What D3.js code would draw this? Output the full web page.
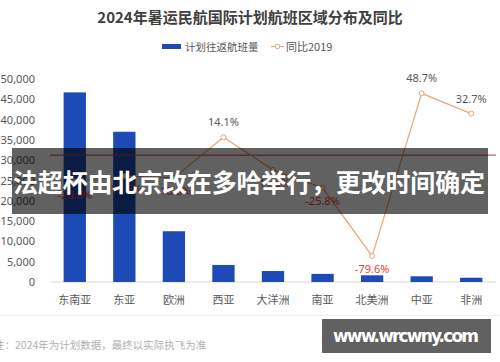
<!DOCTYPE html>
<html lang="zh">

<head>
    <meta charset="UTF-8">
    <title>2024年暑运民航国际计划航班区域分布及同比</title>
    <script src="https://d3js.org/d3.v7.min.js"></script>
    <style>
        body { margin: 0; background: #fff; }
        svg { display: block; font-family: "Noto Sans CJK SC", "Noto Sans", sans-serif; }
    </style>
</head>

<body>
    <svg id="chart" width="500" height="362"></svg>
    <script>
        // Chart data
        const regions = ["东南亚", "东亚", "欧洲", "西亚", "大洋洲", "南亚", "北美洲", "中亚", "非洲"];
        const flights = [46700, 37000, 12500, 4200, 2700, 2000, 1650, 1400, 1050];
        const vs2019 = [-20.8, -16.5, -18.0, 14.1, -11.6, -25.8, -79.6, 48.7, 32.7];
        const yTicks = [0, 5000, 10000, 15000, 20000, 25000, 30000, 35000, 40000, 45000, 50000];

        const svg = d3.select("#chart");

        const x = d3.scaleBand()
            .domain(regions)
            .range([50, 496])
            .paddingInner(0.55)
            .paddingOuter(0.275);

        const y = d3.scaleLinear().domain([0, 50000]).range([282, 79]);
        const yPct = d3.scaleLinear().domain([-100, 60]).range([282, 79]);

        // Title
        svg.append("text")
            .attr("x", 250).attr("y", 23)
            .attr("text-anchor", "middle")
            .attr("font-size", 15).attr("font-weight", "bold")
            .attr("fill", "#404040")
            .text("2024年暑运民航国际计划航班区域分布及同比");

        // Legend
        svg.append("rect")
            .attr("x", 162).attr("y", 44).attr("width", 19).attr("height", 5)
            .attr("fill", "#1d4ab4");
        svg.append("text")
            .attr("x", 185).attr("y", 50.5)
            .attr("font-size", 10.5).attr("fill", "#595959")
            .text("计划往返航班量");
        svg.append("line")
            .attr("x1", 271).attr("x2", 284).attr("y1", 46.5).attr("y2", 46.5)
            .attr("stroke", "#e8a57a").attr("stroke-width", 1.2);
        svg.append("circle")
            .attr("cx", 277.5).attr("cy", 46.5).attr("r", 2.3)
            .attr("fill", "#fff").attr("stroke", "#e8a57a");
        svg.append("text")
            .attr("x", 286).attr("y", 50.5)
            .attr("font-size", 11).attr("fill", "#595959")
            .text("同比2019");

        // Left axis
        const yAxis = svg.append("g")
            .attr("transform", "translate(50,0)")
            .call(d3.axisLeft(y).tickValues(yTicks).tickSize(0).tickPadding(15).tickFormat(d3.format(",")));
        yAxis.select(".domain").remove();
        yAxis.selectAll("text")
            .attr("font-size", 11)
            .attr("font-family", "Noto Sans, sans-serif")
            .attr("fill", "#595959");

        // Baseline
        svg.append("line")
            .attr("x1", 50).attr("x2", 496).attr("y1", 282).attr("y2", 282)
            .attr("stroke", "#d9d9d9");

        // Category labels
        svg.selectAll(".xlabel")
            .data(regions)
            .enter().append("text")
            .attr("class", "xlabel")
            .attr("x", d => x(d) + x.bandwidth() / 2)
            .attr("y", 304)
            .attr("text-anchor", "middle")
            .attr("font-size", 11)
            .attr("fill", "#595959")
            .text(d => d);

        // Bars
        svg.selectAll(".bar")
            .data(flights)
            .enter().append("rect")
            .attr("class", "bar")
            .attr("x", (d, i) => x(regions[i]))
            .attr("y", d => y(d))
            .attr("width", x.bandwidth())
            .attr("height", d => y(0) - y(d))
            .attr("fill", "#1d4ab4");

        // Zero line of the percentage axis
        svg.append("line")
            .attr("x1", 50).attr("x2", 496)
            .attr("y1", yPct(0)).attr("y2", yPct(0))
            .attr("stroke", "#b8403c").attr("stroke-width", 1);

        // YoY line
        const lineGen = d3.line()
            .x((d, i) => x(regions[i]) + x.bandwidth() / 2)
            .y(d => yPct(d));

        svg.append("path")
            .datum(vs2019)
            .attr("d", lineGen)
            .attr("fill", "none")
            .attr("stroke", "#e8a57a")
            .attr("stroke-width", 1.2);

        svg.selectAll(".pt")
            .data(vs2019)
            .enter().append("circle")
            .attr("class", "pt")
            .attr("cx", (d, i) => x(regions[i]) + x.bandwidth() / 2)
            .attr("cy", d => yPct(d))
            .attr("r", 2.5)
            .attr("fill", "#fff")
            .attr("stroke", "#e8a57a");

        svg.selectAll(".pct")
            .data(vs2019)
            .enter().append("text")
            .attr("class", "pct")
            .attr("x", (d, i) => x(regions[i]) + x.bandwidth() / 2)
            .attr("y", d => d >= 0 ? yPct(d) - 11 : yPct(d) + 17)
            .attr("text-anchor", "middle")
            .attr("font-size", 11)
            .attr("font-family", "Noto Sans, sans-serif")
            .attr("fill", d => d >= 0 ? "#595959" : "#e8413c")
            .text(d => d.toFixed(1) + "%");

        // Separator and footnote
        svg.append("line")
            .attr("x1", 0).attr("x2", 500).attr("y1", 315.5).attr("y2", 315.5)
            .attr("stroke", "#eeeeee");
        svg.append("text")
            .attr("x", -6).attr("y", 349)
            .attr("font-size", 10.5)
            .attr("fill", "#b0b0b0")
            .text("注：2024年为计划数据，最终以实际执飞为准");

        // Headline banner over the chart
        svg.append("rect")
            .attr("x", 12).attr("y", 148).attr("width", 476).attr("height", 66)
            .attr("fill", "rgba(0,0,0,0.62)");
        svg.append("text")
            .attr("x", 13).attr("y", 192)
            .attr("font-size", 25).attr("font-weight", "bold")
            .attr("fill", "#fff")
            .attr("textLength", 472)
            .text("法超杯由北京改在多哈举行，更改时间确定");

        // Watermark
        svg.append("rect")
            .attr("x", 322).attr("y", 319).attr("width", 169).attr("height", 34)
            .attr("fill", "#616161");
        svg.append("text")
            .attr("x", 333).attr("y", 342)
            .attr("font-size", 17).attr("font-weight", "bold")
            .attr("font-family", "DejaVu Sans, sans-serif")
            .attr("fill", "#fff")
            .attr("textLength", 146)
            .text("www.wrcwny.com");
    </script>
</body>

</html>
